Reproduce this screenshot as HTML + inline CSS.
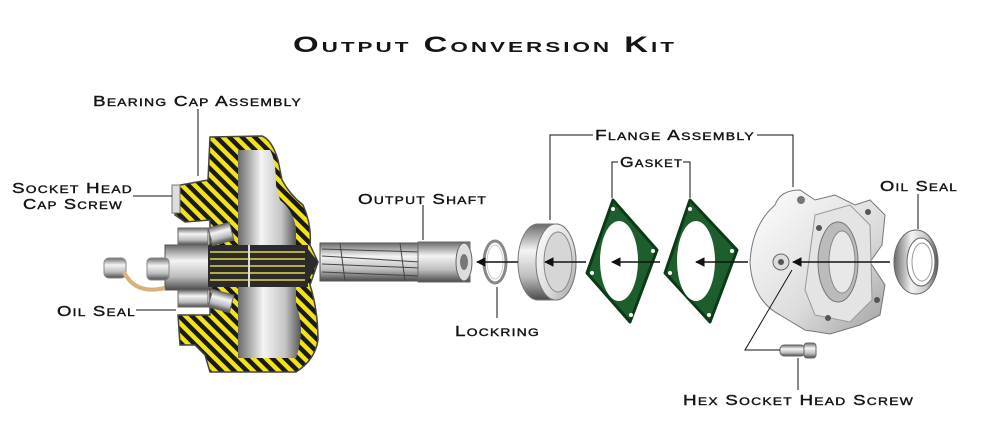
<!DOCTYPE html>
<html><head><meta charset="utf-8"><style>
html,body{margin:0;padding:0;background:#fff;}
svg{display:block;}
text{font-family:"Liberation Sans",sans-serif;font-variant:small-caps;fill:#151515;font-weight:bold;}
.l{font-size:15px;letter-spacing:1px;font-weight:normal;stroke:#151515;stroke-width:0.4px;}
</style></head><body>
<svg width="1000" height="443" viewBox="0 0 1000 443" xmlns="http://www.w3.org/2000/svg">
<defs>
<pattern id="hatch" width="9" height="9" patternUnits="userSpaceOnUse" patternTransform="rotate(-45)">
<rect width="9" height="9" fill="#f2e21a"/><rect width="4.5" height="9" fill="#1a1a1a"/>
</pattern>
<linearGradient id="gv" x1="0" y1="0" x2="0" y2="1">
<stop offset="0" stop-color="#6a6a6a"/><stop offset=".35" stop-color="#f4f4f4"/><stop offset=".7" stop-color="#bdbdbd"/><stop offset="1" stop-color="#4a4a4a"/></linearGradient>
<linearGradient id="gh" x1="0" y1="0" x2="1" y2="0">
<stop offset="0" stop-color="#6a6a6a"/><stop offset=".4" stop-color="#f4f4f4"/><stop offset=".75" stop-color="#c4c4c4"/><stop offset="1" stop-color="#555"/></linearGradient>
<linearGradient id="gl" x1="0" y1="0" x2="1" y2="1">
<stop offset="0" stop-color="#ffffff"/><stop offset=".6" stop-color="#dcdcdc"/><stop offset="1" stop-color="#a0a0a0"/></linearGradient>
<marker id="ar" viewBox="0 0 10 10" refX="9" refY="5" markerWidth="6" markerHeight="6" orient="auto"><path d="M0,0L10,5L0,10z" fill="#111"/></marker>
</defs>

<text x="293" y="52" textLength="384" lengthAdjust="spacingAndGlyphs" style="font-size:22px;letter-spacing:2px">Output Conversion Kit</text>

<!-- bearing cap -->
<path d="M210,137 L262,136 Q272,140 278,160 L282,180 Q290,195 303,205 Q312,225 310,245 L318,262 L310,285 Q318,310 318,340 Q315,360 296,372 L210,372 L205,355 L195,345 L180,345 L178,315 L210,315 L210,220 L185,222 L175,215 L175,186 L208,180 Z" fill="url(#hatch)" stroke="#444" stroke-width="1.5"/>
<path d="M238,150 L270,150 Q276,160 276,185 L280,200 Q293,210 296,228 L296,245 L238,245 Z" fill="url(#gh)"/>
<path d="M238,285 L296,285 L296,305 Q306,330 296,358 L238,358 Z" fill="url(#gh)"/>
<rect x="165" y="245" width="47" height="45" fill="url(#gv)" stroke="#555"/>
<rect x="208" y="245" width="100" height="42" fill="#2b2b2b"/>
<g stroke="#e6d84a" stroke-width="1.5"><line x1="210" y1="252" x2="305" y2="252"/><line x1="210" y1="259" x2="305" y2="259"/><line x1="210" y1="266" x2="305" y2="266"/><line x1="210" y1="273" x2="305" y2="273"/><line x1="210" y1="280" x2="305" y2="280"/></g>
<path d="M305,245 L318,262 L305,287 Z" fill="#2b2b2b"/>
<line x1="249" y1="245" x2="249" y2="287" stroke="#ddd" stroke-width="2"/>
<rect x="178" y="228" width="30" height="17" fill="url(#gv)" stroke="#666"/>
<rect x="178" y="290" width="30" height="17" fill="url(#gv)" stroke="#666"/>
<rect x="210" y="225" width="22" height="18" fill="url(#gv)" stroke="#666" transform="rotate(-15 221 234)"/>
<rect x="210" y="292" width="22" height="18" fill="url(#gv)" stroke="#666" transform="rotate(15 221 301)"/>
<rect x="172" y="185" width="8" height="28" fill="#ddd" stroke="#777"/>
<rect x="147" y="258" width="22" height="22" rx="4" fill="url(#gv)" stroke="#888"/>
<rect x="104" y="258" width="22" height="20" rx="5" fill="url(#gv)" stroke="#888"/>
<path d="M124,272 Q135,295 165,288" fill="none" stroke="#d9b27a" stroke-width="4"/>

<!-- output shaft -->
<rect x="320" y="243" width="100" height="38" fill="url(#gv)" stroke="#555"/>
<g stroke="#444" stroke-width="1"><line x1="322" y1="249" x2="420" y2="252"/><line x1="322" y1="256" x2="420" y2="262"/><line x1="322" y1="264" x2="420" y2="268"/><line x1="322" y1="272" x2="420" y2="276"/><line x1="340" y1="243" x2="345" y2="281"/><line x1="400" y1="243" x2="405" y2="281"/></g>
<rect x="418" y="242" width="52" height="40" fill="url(#gv)" stroke="#666"/>
<ellipse cx="464" cy="262" rx="8" ry="19" fill="#ddd" stroke="#666"/>
<ellipse cx="464" cy="262" rx="4" ry="8" fill="#777"/>

<!-- lockring -->
<ellipse cx="495" cy="262" rx="11" ry="21" fill="none" stroke="#888" stroke-width="3"/>
<ellipse cx="495" cy="262" rx="8" ry="17" fill="none" stroke="#ccc" stroke-width="1"/>

<!-- ring -->
<path d="M538,224 L556,224 A20,38 0 0 1 556,300 L538,300 A20,38 0 0 1 538,224Z" fill="url(#gv)" stroke="#777"/>
<ellipse cx="556" cy="262" rx="20" ry="38" fill="url(#gl)" stroke="#777"/>
<ellipse cx="558" cy="262" rx="14" ry="30" fill="#d6d6d6" stroke="#888"/>

<!-- gaskets -->
<g fill="#1d5e2c" stroke="#0c3a18" stroke-linejoin="round" stroke-width="3">
<path d="M613,200 L657,250 L630,322 L587,273 Z"/>
<path d="M690,200 L737,250 L710,322 L665,273 Z"/>
</g>
<ellipse cx="619" cy="261" rx="19" ry="40" fill="#fff"/>
<ellipse cx="696" cy="261" rx="19" ry="40" fill="#fff"/>
<g fill="#fff"><circle cx="613" cy="209" r="2"/><circle cx="653" cy="251" r="2"/><circle cx="592" cy="273" r="2"/><circle cx="631" cy="315" r="2"/><circle cx="690" cy="209" r="2"/><circle cx="732" cy="251" r="2"/><circle cx="670" cy="273" r="2"/><circle cx="709" cy="315" r="2"/></g>

<!-- flange -->
<path d="M775,205 Q780,190 800,190 L815,200 L835,195 L855,205 L870,200 L885,215 L882,245 L870,262 L885,285 L880,315 L860,325 L830,334 L805,330 L780,315 Q752,300 750,262 Q752,225 775,205Z" fill="url(#gl)" stroke="#777"/>
<path d="M815,215 L850,205 L870,225 L872,300 L850,322 L815,315 L805,290 Z" fill="#e4e4e4" stroke="#999"/>
<ellipse cx="838" cy="262" rx="20" ry="40" fill="#bbb" stroke="#777"/>
<ellipse cx="842" cy="262" rx="13" ry="31" fill="#e8e8e8" stroke="#888"/>
<circle cx="781" cy="262" r="8" fill="#ddd" stroke="#666"/><circle cx="781" cy="262" r="3" fill="#555"/>
<circle cx="801" cy="200" r="4" fill="#777"/><circle cx="868" cy="212" r="3" fill="#555"/><circle cx="819" cy="228" r="3" fill="#555"/><circle cx="877" cy="300" r="3" fill="#555"/><circle cx="828" cy="318" r="3" fill="#555"/>

<!-- oil seal right -->
<ellipse cx="916" cy="262" rx="22" ry="32" fill="url(#gh)" stroke="#666"/>
<ellipse cx="921" cy="262" rx="14" ry="24" fill="#fff" stroke="#666"/>
<ellipse cx="922" cy="262" rx="10" ry="19" fill="none" stroke="#999"/>

<!-- bolt -->
<rect x="780" y="345" width="25" height="11" rx="4" fill="url(#gv)" stroke="#666"/>
<rect x="804" y="343" width="12" height="15" rx="3" fill="url(#gv)" stroke="#666"/>

<!-- axis + arrows -->
<g stroke="#111" stroke-width="1.6" fill="none">
<line x1="518" y1="262" x2="477" y2="262" marker-end="url(#ar)"/>
<line x1="586" y1="262" x2="545" y2="262" marker-end="url(#ar)"/>
<line x1="660" y1="262" x2="612" y2="262" marker-end="url(#ar)"/>
<line x1="748" y1="262" x2="696" y2="262" marker-end="url(#ar)"/>
<line x1="890" y1="262" x2="793" y2="262" marker-end="url(#ar)"/>
</g>

<!-- leader lines -->
<g stroke="#111" stroke-width="1" fill="none">
<line x1="198" y1="109" x2="198" y2="176"/>
<line x1="133" y1="196" x2="172" y2="196"/>
<line x1="136" y1="310" x2="176" y2="310"/>
<line x1="423" y1="205" x2="423" y2="240"/>
<line x1="497" y1="287" x2="497" y2="318"/>
<path d="M593,135 L550,135 L550,220"/>
<path d="M757,135 L793,135 L793,187"/>
<path d="M618,162 L612,162 L612,198"/>
<path d="M683,162 L690,162 L690,198"/>
<line x1="918" y1="194" x2="918" y2="229"/>
<path d="M792,270 L745,350 L780,350"/>
<line x1="798" y1="358" x2="798" y2="390"/>
</g>

<text class="l" x="93" y="106" textLength="209" lengthAdjust="spacingAndGlyphs">Bearing Cap Assembly</text>
<text class="l" x="12" y="193" textLength="121" lengthAdjust="spacingAndGlyphs">Socket Head</text>
<text class="l" x="23" y="209" textLength="100" lengthAdjust="spacingAndGlyphs">Cap Screw</text>
<text class="l" x="57" y="316" textLength="79" lengthAdjust="spacingAndGlyphs">Oil Seal</text>
<text class="l" x="358" y="204" textLength="129" lengthAdjust="spacingAndGlyphs">Output Shaft</text>
<text class="l" x="455" y="336" textLength="85" lengthAdjust="spacingAndGlyphs">Lockring</text>
<text class="l" x="595" y="140" textLength="160" lengthAdjust="spacingAndGlyphs">Flange Assembly</text>
<text class="l" x="620" y="167" textLength="63" lengthAdjust="spacingAndGlyphs">Gasket</text>
<text class="l" x="880" y="191" textLength="78" lengthAdjust="spacingAndGlyphs">Oil Seal</text>
<text class="l" x="683" y="405" textLength="231" lengthAdjust="spacingAndGlyphs">Hex Socket Head Screw</text>
</svg>
</body></html>
